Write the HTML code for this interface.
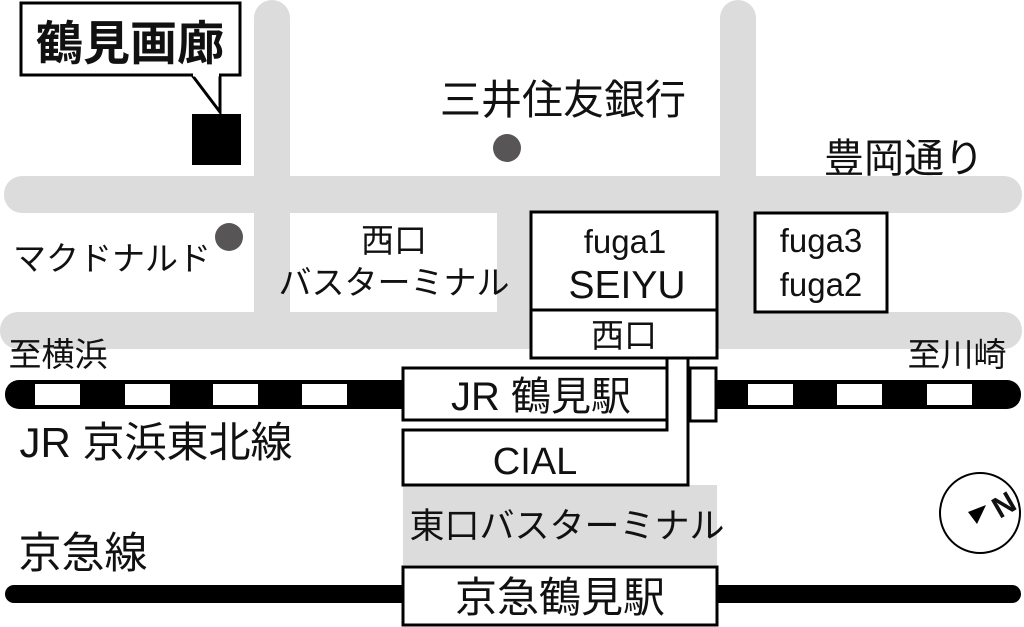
<!DOCTYPE html>
<html><head><meta charset="utf-8"><style>
html,body{margin:0;padding:0;background:#fff;}
svg{display:block;}
text{font-family:"Liberation Sans","Noto Sans CJK JP",sans-serif;fill:#111;}
</style></head><body>
<svg width="1024" height="627" viewBox="0 0 1024 627" xmlns="http://www.w3.org/2000/svg">
<g fill="#dcdcdc">
  <rect x="254" y="0" width="36" height="345" rx="18"/>
  <rect x="720" y="0" width="36" height="345" rx="18"/>
  <rect x="4" y="176" width="1018" height="37" rx="18"/>
  <rect x="0" y="312" width="1022" height="37" rx="18"/>
  <rect x="497" y="176" width="259" height="172"/>
  <rect x="403" y="485" width="314" height="80"/>
</g>
<rect x="21" y="3" width="219" height="72" fill="#fff" stroke="#000" stroke-width="3"/>
<polyline points="192,75 220,112 220,75" fill="#fff" stroke="#000" stroke-width="3"/>
<line x1="193" y1="75" x2="219" y2="75" stroke="#fff" stroke-width="3"/>
<rect x="192" y="114" width="49" height="51" fill="#000"/>
<text x="130" y="60" font-size="47" text-anchor="middle" font-weight="bold">鶴見画廊</text>
<circle cx="507" cy="148" r="14" fill="#585556"/>
<circle cx="229" cy="237" r="14" fill="#585556"/>
<text x="563" y="114" font-size="41" text-anchor="middle">三井住友銀行</text>
<text x="904" y="172" font-size="40" text-anchor="middle">豊岡通り</text>
<text x="112" y="270" font-size="33" text-anchor="middle">マクドナルド</text>
<text x="394" y="252" font-size="33" text-anchor="middle">西口</text>
<text x="394" y="294" font-size="33" text-anchor="middle">バスターミナル</text>
<text x="58" y="366" font-size="33" text-anchor="middle">至横浜</text>
<text x="957" y="366" font-size="33" text-anchor="middle">至川崎</text>
<text x="156" y="457" font-size="42" text-anchor="middle">JR 京浜東北線</text>
<text x="83" y="568" font-size="43" text-anchor="middle">京急線</text>
<rect x="5" y="380" width="1016" height="29" rx="14" fill="#000"/>
<g fill="#fff">
  <rect x="35" y="384" width="45" height="21"/><rect x="125" y="384" width="45" height="21"/>
  <rect x="213" y="384" width="45" height="21"/><rect x="302" y="384" width="45" height="21"/>
  <rect x="748" y="384" width="45" height="21"/><rect x="837" y="384" width="45" height="21"/>
  <rect x="927" y="384" width="45" height="21"/>
</g>
<rect x="5" y="585" width="1016" height="18" rx="9" fill="#000"/>
<g fill="#fff" stroke="#000" stroke-width="3">
  <rect x="531" y="212" width="186" height="98"/>
  <rect x="531" y="310" width="186" height="48"/>
  <rect x="755" y="213" width="132" height="99"/>
  <polygon points="667,358 667,430 403,430 403,485 688,485 688,358"/>
  <rect x="403" y="368" width="264" height="52"/>
  <rect x="690" y="368" width="26" height="53"/>
  <rect x="403" y="567" width="314" height="58"/>
</g>
<text x="625" y="253" font-size="33" text-anchor="middle">fuga1</text>
<text x="627" y="298" font-size="39" text-anchor="middle">SEIYU</text>
<text x="624" y="347" font-size="33" text-anchor="middle">西口</text>
<text x="821" y="252" font-size="33" text-anchor="middle">fuga3</text>
<text x="821" y="296" font-size="33" text-anchor="middle">fuga2</text>
<text x="541" y="410" font-size="40" text-anchor="middle">JR 鶴見駅</text>
<text x="535" y="474" font-size="38" text-anchor="middle">CIAL</text>
<text x="567" y="538" font-size="35" text-anchor="middle">東口バスターミナル</text>
<text x="560" y="612" font-size="42" text-anchor="middle">京急鶴見駅</text>
<circle cx="980" cy="513" r="40" fill="#fff" stroke="#000" stroke-width="2"/>
<polygon points="968,512 986,505 977,524" fill="#000"/>
<text x="1004" y="515" font-size="30" font-weight="bold" font-family="Liberation Serif" text-anchor="middle" transform="rotate(-30 1004 505)">N</text>
</svg>
</body></html>
